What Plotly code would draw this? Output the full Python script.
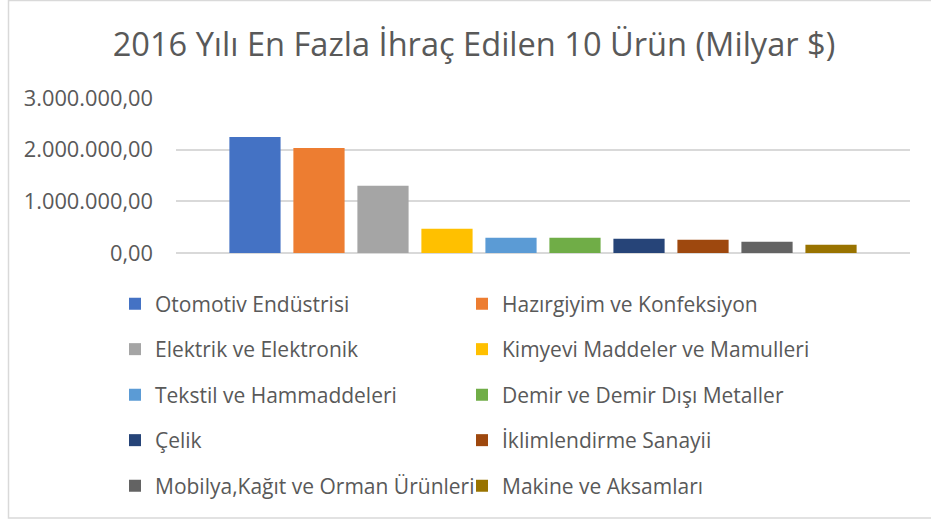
import plotly.graph_objects as go

# 2016 export values by product group
urunler = [
    "Otomotiv Endüstrisi",
    "Hazırgiyim ve Konfeksiyon",
    "Elektrik ve Elektronik",
    "Kimyevi Maddeler ve Mamulleri",
    "Tekstil ve Hammaddeleri",
    "Demir ve Demir Dışı Metaller",
    "Çelik",
    "İklimlendirme Sanayii",
    "Mobilya,Kağıt ve Orman Ürünleri",
    "Makine ve Aksamları",
]
degerler = [2245000, 2030000, 1300000, 470000, 295000, 293000, 276000, 257000, 218000, 160000]
renkler = ["#4472C4", "#ED7D31", "#A5A5A5", "#FFC000", "#5B9BD5",
           "#70AD47", "#264478", "#9E480E", "#636363", "#997300"]
y_ticks = [0, 1000000, 2000000, 3000000]

W, H = 931, 520
L, R, T, B = 176, 21, 98, 267
PW, PH = W - L - R, H - T - B
TXT = "#595959"
FONT = "Open Sans"


def px_x(px):
    return (px - L) / PW


def px_y(py):
    return (H - B - py) / PH


fig = go.Figure()
legend_layouts = {}
for i, (ad, deger, renk) in enumerate(zip(urunler, degerler, renkler)):
    key = "legend" if i == 0 else f"legend{i + 1}"
    fig.add_trace(go.Bar(
        x=["2016"], y=[deger], name=ad, marker_color=renk,
        marker_line_width=0, legend=key,
        hovertemplate=ad + ": %{y:,.2f}<extra></extra>",
    ))
    col, row = i % 2, i // 2
    text_left = 155 if col == 0 else 502
    row_y = 304 + row * 45.5
    legend_layouts[key] = dict(
        x=px_x(text_left - 40), xanchor="left",
        y=px_y(row_y), yanchor="middle",
        orientation="h", bgcolor="rgba(0,0,0,0)",
        font=dict(family=FONT, size=21, color=TXT),
        itemclick=False, itemdoubleclick=False,
    )

fig.update_layout(
    width=W, height=H,
    margin=dict(l=L, r=R, t=T, b=B),
    paper_bgcolor="white", plot_bgcolor="white",
    barmode="group", bargap=0.128, bargroupgap=0.2,
    separators=",.",
    showlegend=True,
    title=dict(
        text="2016 Yılı En Fazla İhraç Edilen 10 Ürün (Milyar $)",
        x=474 / W, xanchor="center", xref="container",
        y=1 - 45 / H, yanchor="middle", yref="container",
        font=dict(family=FONT, size=32.6, color=TXT),
    ),
    xaxis=dict(showticklabels=False, showgrid=False, zeroline=False,
               showline=False, ticks=""),
    yaxis=dict(
        range=[0, 3000000], tickvals=y_ticks, tickformat=",.2f",
        showgrid=True, gridcolor="#D9D9D9", gridwidth=1.5,
        zeroline=True, zerolinecolor="#D9D9D9", zerolinewidth=1.5,
        showline=False, ticks="", ticklabelstandoff=22,
        tickfont=dict(family=FONT, size=21.8, color=TXT),
    ),
    shapes=[dict(
        type="rect", xref="paper", yref="paper",
        x0=px_x(8.5), x1=px_x(W + 5), y0=px_y(518), y1=px_y(0.5),
        line=dict(color="#D9D9D9", width=1.5), fillcolor="rgba(0,0,0,0)",
        layer="below",
    )],
    **legend_layouts,
)

fig.write_html("out.html")
